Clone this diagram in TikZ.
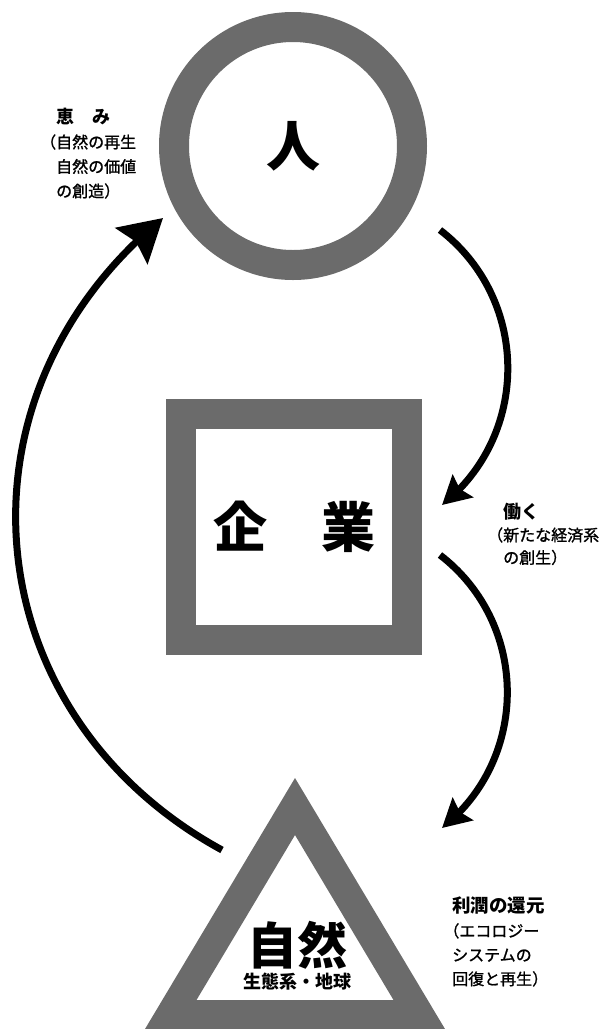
\documentclass[tikz,border=0pt]{standalone}
\usepackage{fontspec}
\setmainfont{Noto Sans CJK JP}
\newfontfamily\jpbody{Noto Sans CJK JP}[FakeBold=1.2]
\usetikzlibrary{arrows.meta,bending}
\definecolor{ringgray}{gray}{0.42}
\begin{document}
\begin{tikzpicture}[x=1pt,y=1pt,
  ring/.style={draw=ringgray, line width=30pt, inner sep=0pt},
  big/.style={font=\fontsize{54}{60}\selectfont\bfseries},
  lbl/.style={anchor=north west, align=left, inner sep=0pt},
  flow/.style={line width=7pt, -{Stealth[length=28pt,width=30pt,inset=4pt]}},
  bigflow/.style={line width=7pt, -{Stealth[length=42pt,width=48pt,inset=6pt]}},
]
\useasboundingbox (0,0) rectangle (615,-1029);
% person circle
\node[ring, circle, minimum size=238pt, big] (hito) at (293,-146) {\raisebox{-6pt}{人}};
% company square
\node[ring, rectangle, minimum size=226pt, big] (kigyo) at (294,-527) {企　業};
% nature triangle
\fill[ringgray, even odd rule] (295,-778) -- (145,-1029) -- (445,-1029) -- cycle
  (295,-835) -- (196.5,-1000) -- (393.5,-1000) -- cycle;
\node[font=\fontsize{50}{56}\selectfont\bfseries, inner sep=0pt] (shizen) at (297,-945) {自然};
\node[font=\fontsize{18}{20}\selectfont\bfseries, inner sep=0pt] (seitai) at (297,-982) {生態系・地球};
% arrows
\coordinate (a1s) at (440,-230); \coordinate (a1e) at (442,-505);
\coordinate (a2s) at (440,-555); \coordinate (a2e) at (442,-828);
\coordinate (a3s) at (222,-850); \coordinate (a3e) at (163,-218);
\draw[flow] (a1s) to[bend left=52, looseness=1.05] (a1e);
\draw[flow] (a2s) to[bend left=52, looseness=1.05] (a2e);
\draw[bigflow] (a3s) to[bend left=56, looseness=1.14] (a3e);
% labels
\node[lbl, font=\jpbody\fontsize{16}{24.5}\selectfont] (megumi) at (40,-108)
  {\hspace*{1em}{\fontsize{18}{20}\selectfont\normalfont\bfseries 恵　み}\\（自然の再生\\　自然の価値\\　の創造）};
\node[lbl, font=\jpbody\fontsize{16}{22.5}\selectfont] (hataraku) at (487,-503)
  {\hspace*{1em}{\fontsize{18}{20}\selectfont\normalfont\bfseries 働く}\\（新たな経済系\\　の創生）};
\node[lbl, font=\jpbody\fontsize{16}{24}\selectfont] (kangen) at (452,-897)
  {{\fontsize{18.5}{20}\selectfont\normalfont\bfseries 利潤の還元}\\\hspace*{-0.55em}（エコロジー\\システムの\\回復と再生）};
\end{tikzpicture}
\end{document}
